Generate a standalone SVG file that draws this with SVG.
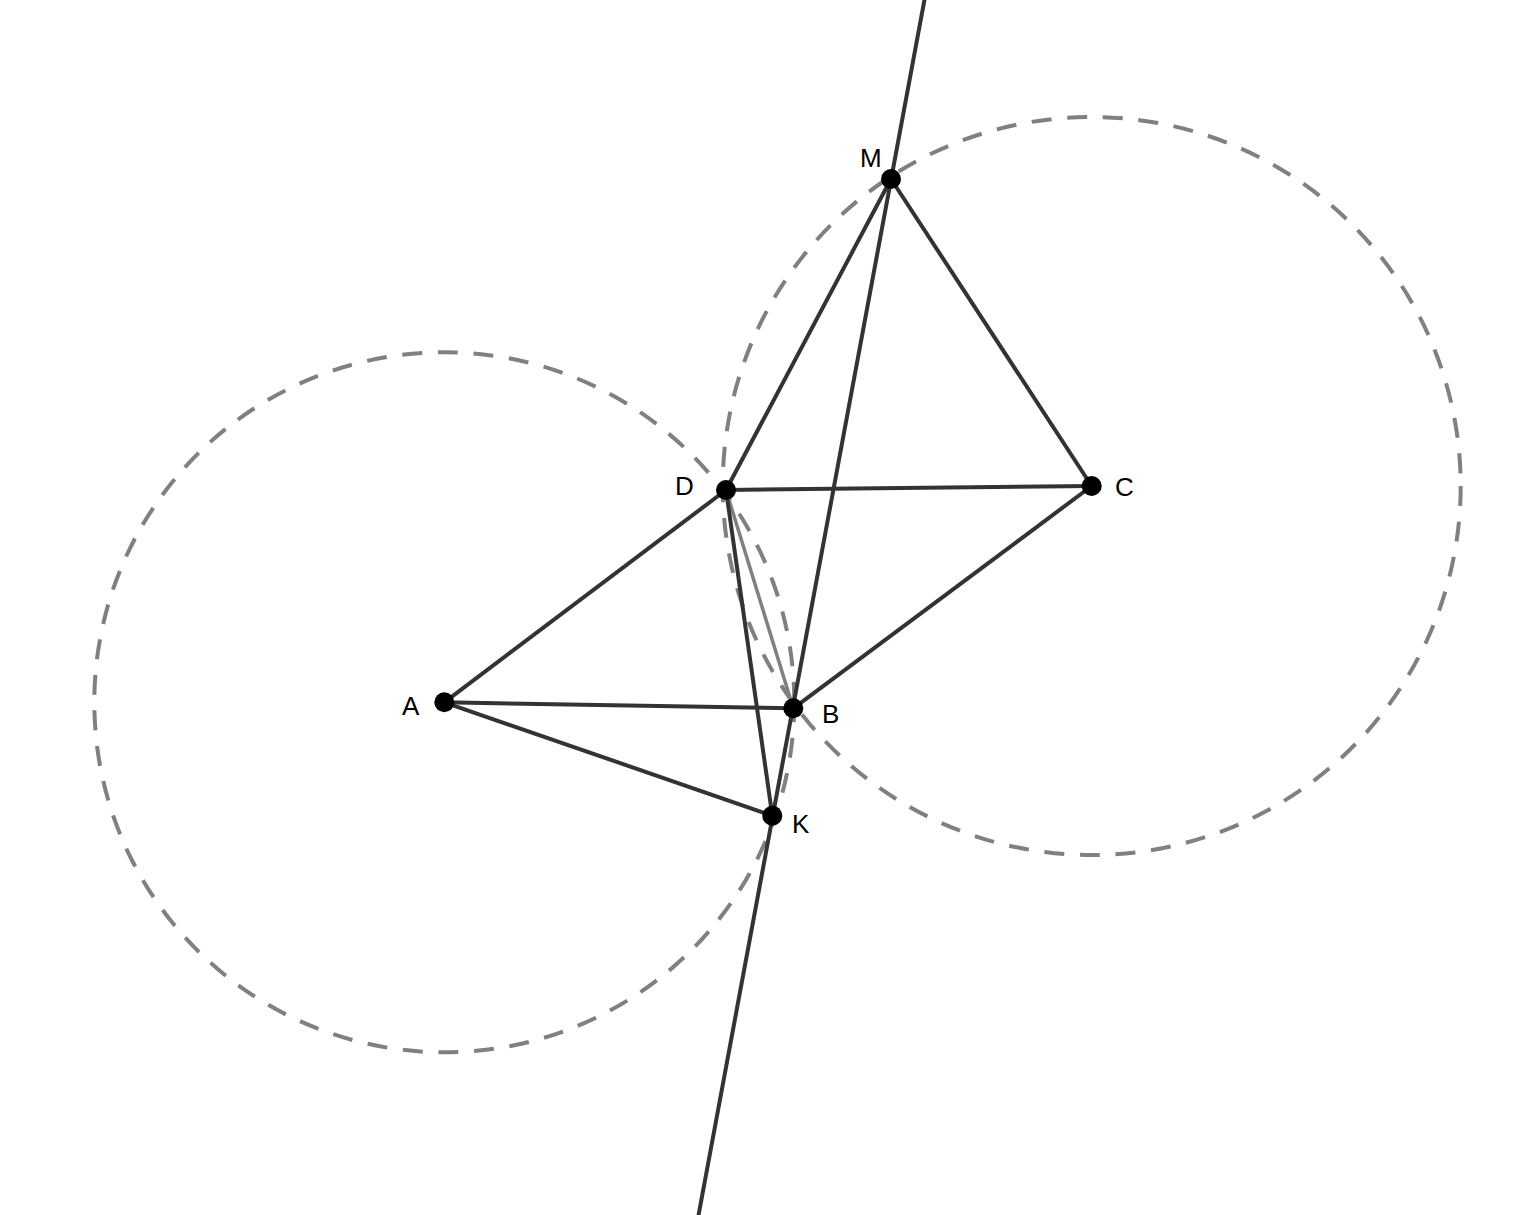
<svg xmlns="http://www.w3.org/2000/svg" width="1532" height="1215" viewBox="0 0 1532 1215">
<style>
.circ{fill:none;stroke:#808080;stroke-width:4;stroke-dasharray:20 15.7}
.seg{stroke:#333333;stroke-width:4;stroke-linecap:round;fill:none}
.gray{stroke:#808080;stroke-width:3.5;stroke-linecap:round}
.pt{fill:#000000}
.lbl{font-family:"Liberation Sans",Arial,sans-serif;font-size:26px;fill:#000000}
</style>
<rect width="1532" height="1215" fill="#ffffff"/>
<g id="circles">
<circle id="circleA" class="circ" cx="444.3" cy="702.3" r="350"/>
<circle id="circleC" class="circ" cx="1091.7" cy="486" r="369"/>
</g>
<g id="connectors">
<line class="seg" x1="925" y1="-3" x2="698" y2="1218"/>
<line class="gray" x1="726" y1="490" x2="793.3" y2="708.3"/>
<line class="seg" x1="891" y1="179" x2="726" y2="490"/>
<line class="seg" x1="891" y1="179" x2="1091.7" y2="486"/>
<line class="seg" x1="726" y1="490" x2="1091.7" y2="486"/>
<line class="seg" x1="726" y1="490" x2="444.3" y2="702.3"/>
<line class="seg" x1="1091.7" y1="486" x2="793.3" y2="708.3"/>
<line class="seg" x1="444.3" y1="702.3" x2="793.3" y2="708.3"/>
<line class="seg" x1="444.3" y1="702.3" x2="772.3" y2="815.7"/>
<line class="seg" x1="726" y1="490" x2="772.3" y2="815.7"/>
</g>
<g id="A"><circle class="pt" cx="444.3" cy="702.3" r="10"/><text class="lbl" x="402" y="715">A</text></g>
<g id="B"><circle class="pt" cx="793.3" cy="708.3" r="10"/><text class="lbl" x="822" y="723">B</text></g>
<g id="C"><circle class="pt" cx="1091.7" cy="486" r="10"/><text class="lbl" x="1115" y="496">C</text></g>
<g id="D"><circle class="pt" cx="726" cy="490" r="10"/><text class="lbl" x="675" y="495">D</text></g>
<g id="K"><circle class="pt" cx="772.3" cy="815.7" r="10"/><text class="lbl" x="792" y="833">K</text></g>
<g id="M"><circle class="pt" cx="891" cy="179" r="10"/><text class="lbl" x="860" y="167">M</text></g>
</svg>
